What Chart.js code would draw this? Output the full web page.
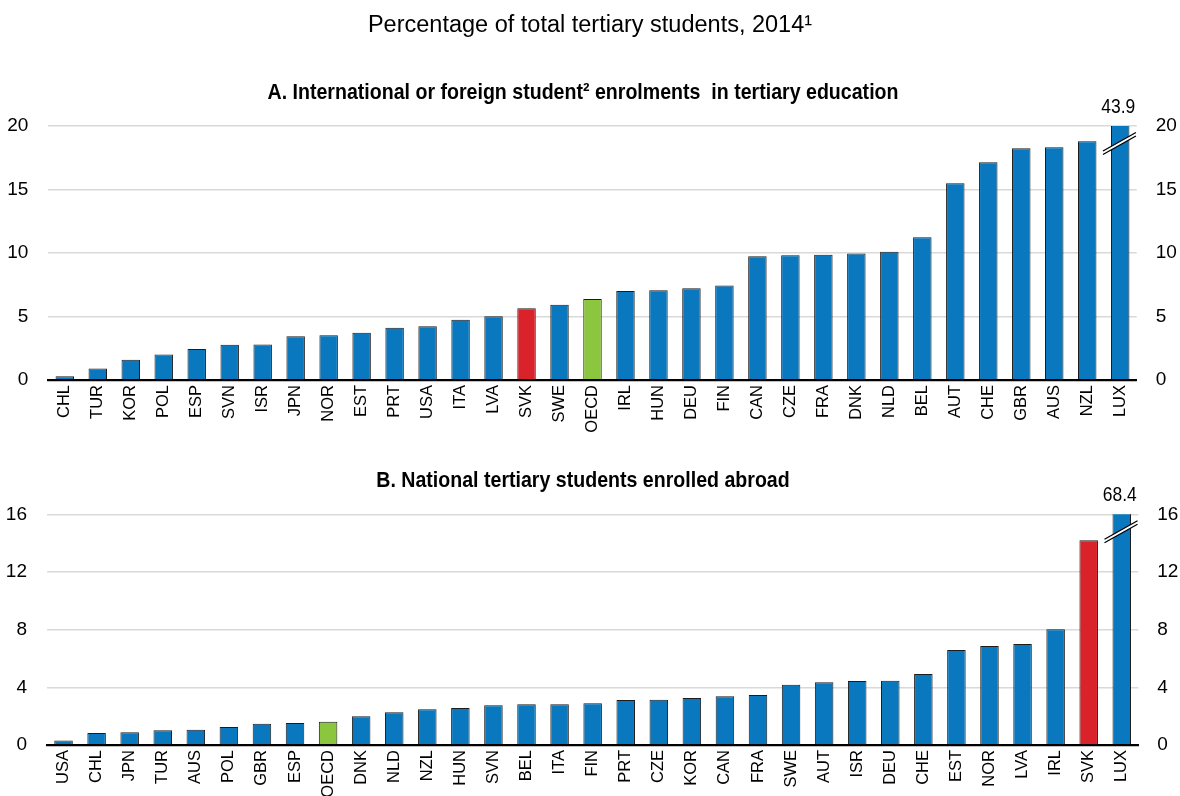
<!DOCTYPE html>
<html>
<head>
<meta charset="utf-8">
<script src="https://cdn.jsdelivr.net/npm/chart.js@4/dist/chart.umd.min.js"></script>
<style>
  html, body { margin: 0; padding: 0; background: #fff; width: 1180px; height: 796px; overflow: hidden; }
  #wrap { position: relative; width: 1180px; height: 796px; overflow: hidden; }
  canvas { position: absolute; left: 0; }
  #cA { top: 0; }
  #cB { top: 440px; }
</style>
</head>
<body>
<div id="wrap">
  <canvas id="cA" width="1180" height="440"></canvas>
  <canvas id="cB" width="1180" height="400"></canvas>
</div>
<script>
// ---- Data ----
const mainTitle = "Percentage of total tertiary students, 2014\u00B9";
const titleA = "A. International or foreign student\u00B2 enrolments  in tertiary education";
const titleB = "B. National tertiary students enrolled abroad";

const categoriesA = ["CHL","TUR","KOR","POL","ESP","SVN","ISR","JPN","NOR","EST","PRT","USA","ITA","LVA","SVK","SWE","OECD","IRL","HUN","DEU","FIN","CAN","CZE","FRA","DNK","NLD","BEL","AUT","CHE","GBR","AUS","NZL","LUX"];
const valuesA = [0.3,0.9,1.6,2.0,2.44,2.78,2.8,3.44,3.52,3.73,4.12,4.23,4.75,5.01,5.64,5.93,6.38,7.0,7.06,7.22,7.45,9.74,9.82,9.87,9.97,10.1,11.24,15.49,17.14,18.24,18.32,18.8,43.9];
const ticksA = [0,5,10,15,20];

const categoriesB = ["USA","CHL","JPN","TUR","AUS","POL","GBR","ESP","OECD","DNK","NLD","NZL","HUN","SVN","BEL","ITA","FIN","PRT","CZE","KOR","CAN","FRA","SWE","AUT","ISR","DEU","CHE","EST","NOR","LVA","IRL","SVK","LUX"];
const valuesB = [0.32,0.83,0.88,1.02,1.06,1.25,1.48,1.53,1.62,1.99,2.27,2.48,2.57,2.75,2.82,2.82,2.89,3.12,3.14,3.26,3.38,3.47,4.18,4.35,4.44,4.46,4.92,6.59,6.87,7.0,8.02,14.2,68.4];
const ticksB = [0,4,8,12,16];

// ---- Styles ----
const BLUE = "#0a78be", RED = "#d9222a", GREEN = "#8cc63f";
const SANS = "'Liberation Sans', Arial, sans-serif";

function colorFor(c) { return c === "SVK" ? RED : (c === "OECD" ? GREEN : BLUE); }

function narrowText(ctx, text, x, y, sx) {
  ctx.save();
  ctx.translate(x, y);
  ctx.scale(sx, 1);
  ctx.fillText(text, 0, 0);
  ctx.restore();
}

function decorPlugin(panelTitle, withMain) {
  return {
    id: 'decor',
    afterDatasetsDraw(chart) {
      const ctx = chart.ctx;
      const area = chart.chartArea;
      const meta = chart.getDatasetMeta(0);
      const n = meta.data.length;
      const bar = meta.data[n - 1];
      const val = chart.data.datasets[0].data[n - 1];
      const yMax = chart.scales.y.max;
      const half = bar.width / 2;
      const left = bar.x - half, right = bar.x + half;
      const top = area.top;
      ctx.save();
      ctx.textAlign = "center";
      ctx.textBaseline = "alphabetic";
      if (val > yMax) {
        // break marks
        const x1 = left - 8, x2 = right + 6.5;
        const y1 = top + 25, y2 = top + 6.5, gap = 3.5;
        ctx.fillStyle = "#fff";
        ctx.beginPath();
        ctx.moveTo(x1, y1); ctx.lineTo(x2, y2);
        ctx.lineTo(x2, y2 + gap); ctx.lineTo(x1, y1 + gap);
        ctx.closePath(); ctx.fill();
        ctx.strokeStyle = "#000"; ctx.lineWidth = 1.3;
        ctx.beginPath();
        ctx.moveTo(x1, y1); ctx.lineTo(x2, y2);
        ctx.moveTo(x1, y1 + gap); ctx.lineTo(x2, y2 + gap);
        ctx.stroke();
        // value label
        ctx.fillStyle = "#000";
        ctx.font = "21px " + SANS;
        narrowText(ctx, val.toFixed(1), bar.x - 2, top - 13, 0.83);
      }
      // panel title
      ctx.fillStyle = "#000";
      ctx.font = "bold 22px " + SANS;
      narrowText(ctx, panelTitle, 583, top - 27, 0.89);
      if (withMain) {
        ctx.font = "23.5px " + SANS;
        ctx.fillText(mainTitle, 590, 32);
      }
      ctx.restore();
    }
  };
}

function makeChart(id, cats, vals, ticks, geom, panelTitle, withMain) {
  const H = geom.H;
  return new Chart(document.getElementById(id), {
    type: 'bar',
    data: {
      labels: cats,
      datasets: [{
        data: vals,
        backgroundColor: cats.map(colorFor),
        borderColor: "#1c1c1c",
        borderWidth: 1,
        barPercentage: 0.56,
        categoryPercentage: 1.0
      }]
    },
    options: {
      responsive: false,
      animation: false,
      layout: { padding: { top: geom.top, left: 0, right: 0, bottom: 0 } },
      plugins: { legend: { display: false }, tooltip: { enabled: false }, title: { display: false } },
      scales: {
        x: {
          position: 'bottom',
          grid: { display: false, drawTicks: false },
          border: { display: true, color: "#000", width: 2.2, z: 1 },
          ticks: { autoSkip: false, maxRotation: 90, minRotation: 90, padding: 5, color: "#000", font: { family: SANS, size: 16.5 } },
          afterFit(s) { s.height = H - geom.bottom; }
        },
        y: {
          position: 'left',
          min: ticks[0], max: ticks[ticks.length - 1],
          afterBuildTicks(s) { s.ticks = ticks.map(v => ({ value: v })); },
          grid: { color: "#d9d9d9", lineWidth: 1.6, drawTicks: false },
          border: { display: false },
          ticks: { padding: geom.lpad, color: "#000", font: { family: SANS, size: 19 } },
          afterFit(s) { s.width = geom.left; }
        },
        y2: {
          position: 'right',
          min: ticks[0], max: ticks[ticks.length - 1],
          afterBuildTicks(s) { s.ticks = ticks.map(v => ({ value: v })); },
          grid: { display: false, drawTicks: false },
          border: { display: false },
          ticks: { padding: 19, color: "#000", font: { family: SANS, size: 19 } },
          afterFit(s) { s.width = 1180 - geom.right; }
        }
      }
    },
    plugins: [decorPlugin(panelTitle, withMain)]
  });
}

makeChart('cA', categoriesA, valuesA, ticksA, { H: 440, top: 126, bottom: 380, left: 48.3, right: 1136.7, lpad: 20 }, titleA, true);
makeChart('cB', categoriesB, valuesB, ticksB, { H: 400, top: 74.3, bottom: 305, left: 47, right: 1138.3, lpad: 20 }, titleB, false);
</script>
</body>
</html>
